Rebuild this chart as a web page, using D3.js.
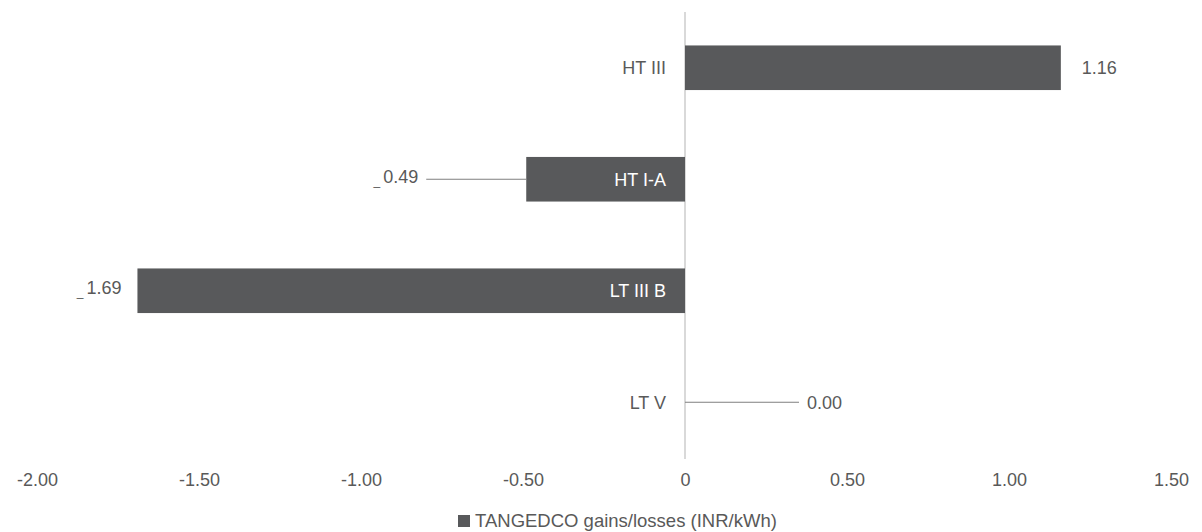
<!DOCTYPE html>
<html>
<head>
<meta charset="utf-8">
<script src="https://cdn.jsdelivr.net/npm/d3@7"></script>
<style>
  body { margin: 0; background: #fff; }
  svg { display: block; font-family: "Liberation Sans", Arial, sans-serif; }
</style>
</head>
<body>
<svg width="1202" height="532"></svg>
<script>
// data
const categories = ["HT III", "HT I-A", "LT III B", "LT V"];
const values = [1.16, -0.49, -1.69, 0.0];
const tickValues = [-2, -1.5, -1, -0.5, 0, 0.5, 1, 1.5];
const tickLabels = ["-2.00", "-1.50", "-1.00", "-0.50", "0", "0.50", "1.00", "1.50"];
const seriesName = "TANGEDCO gains/losses (INR/kWh)";

const textColor = "#595959";
const barColor = "#58595b";

const svg = d3.select("svg");

// prettier-ignore
const x = d3.scaleLinear()
    .domain([-2, 1.5])
    .range([37, 1171])

// prettier-ignore
const y = d3.scaleBand()
    .domain(categories)
    .range([12, 458])
    .paddingInner(0.6)
    .paddingOuter(0.3)

// zero line
// prettier-ignore
svg.append("line")
    .attr("x1", x(0)).attr("x2", x(0))
    .attr("y1", 12).attr("y2", 459)
    .attr("stroke", "#d9d9d9")
    .attr("stroke-width", 2)

// bottom axis, labels only
// prettier-ignore
const xAxis = d3.axisBottom(x)
    .tickValues(tickValues)
    .tickFormat((d, i) => tickLabels[i])
    .tickSize(0)
    .tickPadding(0)

// prettier-ignore
const axisG = svg.append("g")
    .attr("transform", "translate(0, 473)")
    .call(xAxis)

axisG.select(".domain").remove();
// prettier-ignore
axisG.selectAll("text")
    .attr("dy", "0.71em")
    .attr("fill", textColor)
    .style("font-size", "18px")
    .style("font-family", "'Liberation Sans', Arial, sans-serif")

const rows = categories.map((c, i) => ({ cat: c, v: values[i] }));

// bars
// prettier-ignore
svg.append("g")
    .selectAll("rect")
    .data(rows)
    .join("rect")
    .attr("x", (d) => x(Math.min(0, d.v)))
    .attr("width", (d) => Math.abs(x(d.v) - x(0)))
    .attr("y", (d) => y(d.cat))
    .attr("height", y.bandwidth())
    .attr("fill", barColor)

// category labels, left of the zero line (white when inside a bar)
// prettier-ignore
svg.append("g")
    .selectAll("text")
    .data(rows)
    .join("text")
    .attr("x", x(0) - 19)
    .attr("y", (d) => y(d.cat) + y.bandwidth() / 2)
    .attr("dy", "0.35em")
    .attr("text-anchor", "end")
    .attr("fill", (d) => (d.v < 0 ? "#ffffff" : textColor))
    .style("font-size", "18px")
    .text((d) => d.cat)

// value labels: offset from bar end, some with leader lines
const labelGap = [21, 108, 16, 122];
const leader = [false, true, false, true];

const labelG = svg.append("g");
rows.forEach((d, i) => {
  const end = x(d.v);
  const cy = y(d.cat) + y.bandwidth() / 2;
  const neg = d.v < 0;
  const lx = neg ? end - labelGap[i] : end + labelGap[i];
  if (leader[i]) {
    // prettier-ignore
    labelG.append("line")
        .attr("x1", end)
        .attr("x2", neg ? lx + 8 : lx - 8)
        .attr("y1", cy).attr("y2", cy)
        .attr("stroke", "#7f7f7f")
        .attr("stroke-width", 1.2)
  }
  // prettier-ignore
  const t = labelG.append("text")
      .attr("x", lx)
      .attr("y", cy)
      .attr("dy", "0.35em")
      .attr("text-anchor", neg ? "end" : "start")
      .attr("fill", textColor)
      .style("font-size", "18px")
  const s = Math.abs(d.v).toFixed(2);
  if (neg) {
    t.append("tspan").attr("dy", "0.45em").style("font-size", "12px").text("_");
    t.append("tspan").attr("dy", "-0.1em").attr("dx", 3).text(s);
  } else {
    t.text(s);
  }
});

// legend
// prettier-ignore
const legend = svg.append("g")
    .attr("transform", "translate(458, 515)")

legend.append("rect").attr("width", 12).attr("height", 12).attr("fill", barColor);
// prettier-ignore
legend.append("text")
    .attr("x", 17)
    .attr("y", 12)
    .attr("fill", textColor)
    .style("font-size", "18.5px")
    .text(seriesName)
</script>
</body>
</html>
